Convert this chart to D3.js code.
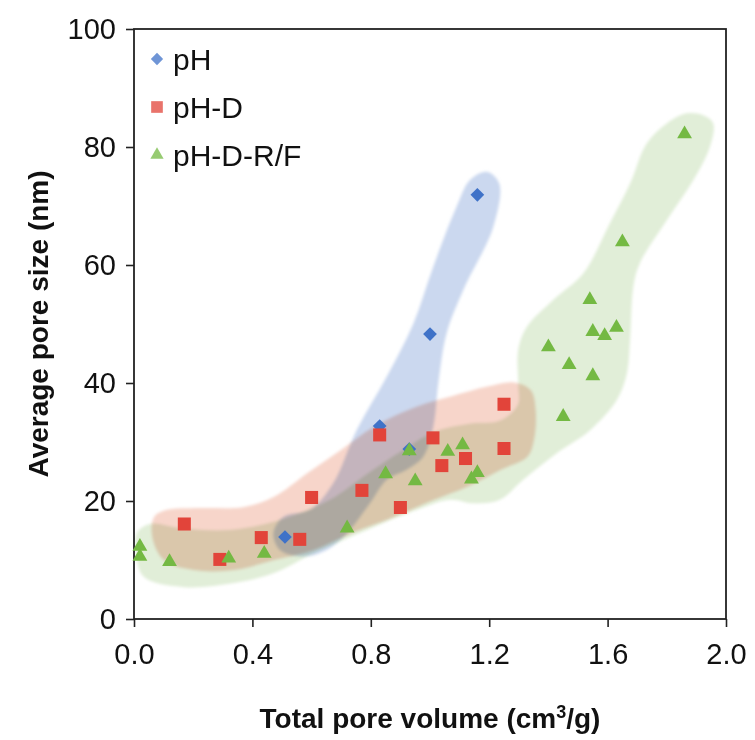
<!DOCTYPE html>
<html>
<head>
	<meta charset="utf-8">
	<script type="text/javascript" src="https://cdn.jsdelivr.net/npm/d3@7/dist/d3.min.js"></script>
	<title>Pore size vs pore volume</title>
	<style type="text/css">
		body { margin: 0; background: #fff; }
		text { font-family: "Liberation Sans", Arial, sans-serif; fill: #111; }
		.region { mix-blend-mode: multiply; }
	</style>
</head>
<body>
	<script>
		// measured points, x = total pore volume (cm3/g), y = average pore size (nm)
		var phX = [0.51, 0.83, 0.93, 1.00, 1.16];
		var phY = [13.9, 32.7, 28.8, 48.3, 71.9];

		var phDX = [0.17, 0.29, 0.43, 0.56, 0.60, 0.77, 0.83, 0.90, 1.01, 1.04, 1.12, 1.25, 1.25];
		var phDY = [16.1, 10.1, 13.8, 13.5, 20.6, 21.8, 31.2, 18.9, 30.7, 26.0, 27.2, 36.4, 28.9];

		var phDRFX = [0.02, 0.02, 0.12, 0.32, 0.44, 0.72, 0.85, 0.93, 0.95, 1.06, 1.11, 1.14, 1.16,
			1.40, 1.45, 1.47, 1.54, 1.55, 1.55, 1.59, 1.63, 1.65, 1.86];
		var phDRFY = [12.3, 10.6, 9.7, 10.3, 11.1, 15.4, 24.6, 28.5, 23.4, 28.4, 29.5, 23.7, 24.8,
			46.1, 34.3, 43.1, 54.1, 48.7, 41.2, 48.0, 49.4, 63.9, 82.2];

		// hand drawn envelopes around each group, same units as the data
		var phHull = [[1.192,75.8],[1.234,73.8],[1.214,66.5],[1.113,55.8],[1.056,48.4],[1.028,39.9],
			[1.011,32.6],[0.977,27.5],[0.921,25.3],[0.854,23.6],[0.797,19.6],[0.719,14.5],[0.651,11.7],
			[0.572,10.6],[0.493,11.7],[0.471,14.5],[0.504,17.3],[0.595,18.5],[0.673,23.0],[0.752,32.0],
			[0.854,41.1],[0.944,50.1],[1.011,59.7],[1.090,69.9],[1.135,74.4]];
		var phDHull = [[0.068,17.3],[0.112,18.5],[0.225,18.8],[0.372,19.0],[0.473,20.7],[0.585,24.7],
			[0.698,28.6],[0.811,32.6],[0.957,36.0],[1.070,37.7],[1.194,39.4],[1.284,40.1],[1.340,38.8],
			[1.357,35.4],[1.351,30.3],[1.329,27.5],[1.239,25.3],[1.126,22.4],[1.014,20.2],[0.878,17.3],
			[0.732,14.5],[0.608,11.7],[0.473,10.0],[0.338,8.3],[0.203,8.3],[0.101,10.0],[0.062,13.9]];
		var phDRFHull = [[1.867,85.7],[1.923,85.4],[1.957,84.0],[1.946,80.1],[1.890,74.4],[1.800,67.6],
			[1.709,60.3],[1.687,56.3],[1.676,47.3],[1.665,41.6],[1.631,37.1],[1.541,32.0],[1.428,28.1],
			[1.315,23.6],[1.236,20.2],[1.146,19.6],[1.068,20.2],[0.956,18.5],[0.787,15.1],[0.608,11.2],
			[0.473,7.8],[0.338,6.1],[0.169,5.4],[0.034,7.1],[0.007,10.8],[0.010,14.6],[0.054,16.1],
			[0.155,15.4],[0.324,15.1],[0.493,16.8],[0.662,20.2],[0.797,24.9],[0.899,28.3],[1.014,31.7],
			[1.135,33.1],[1.236,33.6],[1.297,36.3],[1.298,39.9],[1.298,45.6],[1.327,49.5],[1.417,54.1],
			[1.518,58.6],[1.608,67.1],[1.676,73.8],[1.732,80.6],[1.800,84.0]];

		var seriesNames = ['pH', 'pH-D', 'pH-D-R/F'];
		var xTicks = [0, 0.4, 0.8, 1.2, 1.6, 2.0];
		var yTicks = [0, 20, 40, 60, 80, 100];

		var svgWidth = 755;
		var svgHeight = 740;
		var plotLeft = 134, plotRight = 726, plotTop = 29, plotBottom = 619;

		var svg = d3.select('body')
			.append('svg')
			.attr('width', svgWidth)
			.attr('height', svgHeight);

		svg.append('rect')
			.attr('width', svgWidth)
			.attr('height', svgHeight)
			.attr('fill', '#fff');

		var xScale = d3.scaleLinear().domain([0, 2]).range([plotLeft, plotRight]);
		var yScale = d3.scaleLinear().domain([0, 100]).range([plotBottom, plotTop]);

		var series = [
			{ name: seriesNames[0], xs: phX, ys: phY, hull: phHull, color: '#3f72c8', shade: '#cbd8ef', symbol: d3.symbolDiamond2, size: 120 },
			{ name: seriesNames[1], xs: phDX, ys: phDY, hull: phDHull, color: '#e2443a', shade: '#f7d5ca', symbol: d3.symbolSquare, size: 170 },
			{ name: seriesNames[2], xs: phDRFX, ys: phDRFY, hull: phDRFHull, color: '#74b943', shade: '#e1eed8', symbol: d3.symbolTriangle, size: 95 }
		];

		var defs = svg.append('defs');
		defs.append('filter').attr('id', 'soft')
			.append('feGaussianBlur').attr('stdDeviation', 1.5);

		var hullLine = d3.line()
			.x(function (d) { return xScale(d[0]); })
			.y(function (d) { return yScale(d[1]); })
			.curve(d3.curveCatmullRomClosed.alpha(0.5));

		var regionLayer = svg.append('g').style('isolation', 'isolate');
		regionLayer.selectAll('path')
			.data(series.slice().reverse())
			.enter()
			.append('path')
				.attr('class', 'region')
				.attr('d', function (s) { return hullLine(s.hull); })
				.attr('fill', function (s) { return s.shade; })
				.attr('filter', 'url(#soft)');

		// axes
		var xAxis = d3.axisBottom(xScale).tickValues(xTicks).tickSize(8).tickPadding(16)
			.tickFormat(d3.format('.1f'));
		var yAxis = d3.axisLeft(yScale).tickValues(yTicks).tickSize(8).tickPadding(10);

		var gx = svg.append('g').attr('transform', 'translate(0,' + plotBottom + ')').call(xAxis);
		var gy = svg.append('g').attr('transform', 'translate(' + plotLeft + ',0)').call(yAxis);
		[gx, gy].forEach(function (g) {
			g.select('.domain').remove();
			g.selectAll('line').attr('stroke', '#222').attr('stroke-width', 1.6);
			g.selectAll('text').style('font-size', '29px').attr('fill', '#111');
		});

		svg.append('rect')
			.attr('x', plotLeft)
			.attr('y', plotTop)
			.attr('width', plotRight - plotLeft)
			.attr('height', plotBottom - plotTop)
			.attr('fill', 'none')
			.attr('stroke', '#222')
			.attr('stroke-width', 1.8);

		// points
		series.forEach(function (s) {
			svg.append('g').selectAll('path')
				.data(d3.range(s.xs.length))
				.enter()
				.append('path')
					.attr('d', d3.symbol().type(s.symbol).size(s.size))
					.attr('transform', function (i) {
						return 'translate(' + xScale(s.xs[i]) + ',' + yScale(s.ys[i]) + ')';
					})
					.attr('fill', s.color);
		});

		// legend
		var legend = svg.append('g').attr('transform', 'translate(157,59)');
		var legendItems = legend.selectAll('g')
			.data(series)
			.enter()
			.append('g')
				.attr('transform', function (d, i) { return 'translate(0,' + (i * 48) + ')'; });
		legendItems.append('path')
			.attr('d', function (s) { return d3.symbol().type(s.symbol).size(s.size * 0.8)(); })
			.attr('fill', function (s) { return d3.interpolateRgb(s.color, '#fff')(0.25); });
		legendItems.append('text')
			.attr('x', 16)
			.attr('dy', '0.36em')
			.style('font-size', '30px')
			.text(function (s) { return s.name; });

		// titles
		var xTitle = svg.append('text')
			.attr('x', (plotLeft + plotRight) / 2)
			.attr('y', 728)
			.attr('text-anchor', 'middle')
			.style('font-size', '28px')
			.style('font-weight', 'bold');
		xTitle.append('tspan').text('Total pore volume (cm');
		xTitle.append('tspan').attr('dy', -10).style('font-size', '18px').text('3');
		xTitle.append('tspan').attr('dy', 10).text('/g)');

		svg.append('text')
			.attr('transform', 'translate(48,' + ((plotTop + plotBottom) / 2) + ') rotate(-90)')
			.attr('text-anchor', 'middle')
			.style('font-size', '28px')
			.style('font-weight', 'bold')
			.text('Average pore size (nm)');
	</script>
</body>
</html>
